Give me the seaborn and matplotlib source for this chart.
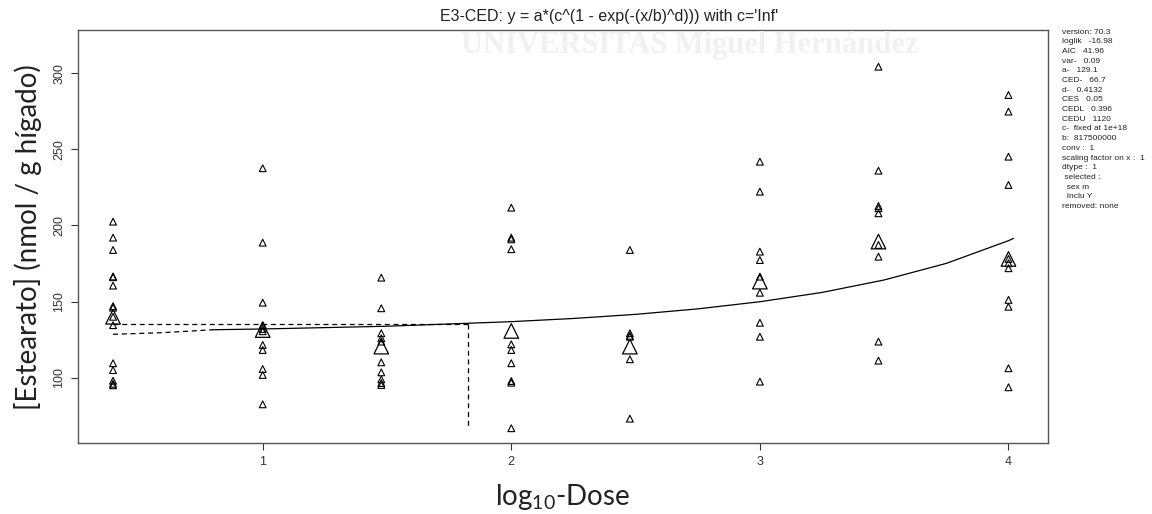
import numpy as np
import pandas as pd
import matplotlib
matplotlib.use("Agg")
import matplotlib.pyplot as plt
import seaborn as sns

# ---- data ----
dose_positions = [0.398, 1.0, 1.477, 2.0, 2.477, 3.0, 3.477, 4.0]
group_values = [
    [202.5, 192.0, 183.9, 166.5, 166.0, 160.5, 147.0, 146.0, 140.0, 134.5, 109.5, 105.0, 98.0, 96.0, 95.0],
    [237.6, 188.7, 149.3, 134.6, 132.0, 130.5, 121.5, 118.2, 105.7, 101.8, 82.5],
    [165.7, 145.6, 129.2, 125.9, 123.7, 110.1, 103.5, 98.9, 96.5, 95.2],
    [211.7, 192.0, 190.9, 184.4, 121.9, 118.2, 109.5, 97.8, 96.7, 66.8],
    [183.9, 129.2, 127.5, 126.9, 112.1, 73.1],
    [241.9, 222.2, 182.8, 177.3, 166.4, 155.8, 136.1, 126.9, 97.4],
    [304.3, 236.0, 212.8, 211.3, 208.0, 187.2, 179.5, 123.7, 111.2],
    [285.7, 274.8, 245.2, 226.6, 178.0, 175.2, 171.9, 151.1, 146.6, 106.2, 93.7],
]
group_means = [140.0, 131.3, 120.4, 130.7, 120.4, 163.1, 189.4, 178.0]

curve_x = [0.80, 1.0, 1.5, 2.0, 2.25, 2.5, 2.75, 3.0, 3.25, 3.5, 3.75, 4.0, 4.02]
curve_y = [131.5, 132.0, 133.8, 136.8, 138.9, 141.6, 145.2, 149.9, 156.0, 164.2, 175.1, 190.0, 191.5]
dash_x = [0.398, 0.60, 0.80]
dash_y = [128.5, 129.6, 131.5]

ced_pos = 1.824
ces_level = 135.1
ced_bottom = 66.8

title_text = "E3-CED: y = a*(c^(1 - exp(-(x/b)^d))) with c='Inf'"
info_lines = [
    "version: 70.3", "loglik   -16.98", "AIC   41.96", "var-   0.09", "a-   129.1",
    "CED-   66.7", "d-   0.4132", "CES   0.05", "CEDL   0.396", "CEDU   1120",
    "c-  fixed at 1e+18", "b:  817500000", "conv :  1", "scaling factor on x :  1",
    "dtype :  1", " selected :", "  sex m", "  Inclu Y", "removed: none",
]
x_ticks = [1, 2, 3, 4]
y_ticks = [100, 150, 200, 250, 300]

# ---- build frames ----
pts = pd.DataFrame(
    [(d, v) for d, vals in zip(dose_positions, group_values) for v in vals],
    columns=["dose", "value"],
)
means = pd.DataFrame({"dose": dose_positions, "value": group_means})
curve = pd.DataFrame({"dose": curve_x, "value": curve_y})
dashc = pd.DataFrame({"dose": dash_x, "value": dash_y})

sns.set_theme(style="white")
plt.rcParams["font.family"] = ["Liberation Sans", "DejaVu Sans"]
plt.rcParams["mathtext.fontset"] = "custom"
plt.rcParams["mathtext.rm"] = "Lato"

fig = plt.figure(figsize=(11.52, 5.14), dpi=100)

# faint background watermark
fig.text(690 / 1152, 1 - 45 / 514, "UNIVERSITAS Miguel Hernández", ha="center",
         va="center", fontsize=22, family="Liberation Serif", weight="bold",
         color="#f1f1f1", zorder=0)

ax = fig.add_axes([78 / 1152, 1 - 443.3 / 514, (1048 - 78) / 1152, (443.3 - 30) / 514])
ax.set_facecolor("none")

sns.scatterplot(data=pts, x="dose", y="value", marker="^", s=24,
                facecolor="none", edgecolor="black", linewidth=0.8, ax=ax, zorder=3)
sns.scatterplot(data=means, x="dose", y="value", marker="^", s=110,
                facecolor="none", edgecolor="black", linewidth=0.9, ax=ax, zorder=3)
sns.lineplot(data=curve, x="dose", y="value", color="black", linewidth=0.9, ax=ax,
             sort=False, estimator=None)
sns.lineplot(data=dashc, x="dose", y="value", color="black", linewidth=0.9, ax=ax,
             sort=False, estimator=None, linestyle=(0, (4, 3)))
ax.plot([dose_positions[0], ced_pos], [ces_level, ces_level], color="black",
        linewidth=0.9, linestyle=(0, (4, 3)))
ax.plot([ced_pos, ced_pos], [ces_level, ced_bottom], color="black",
        linewidth=0.9, linestyle=(0, (4, 3)))

ax.set_xlim(0.257, 4.159)
ax.set_ylim(56.9, 328.4)
ax.set_xticks(x_ticks)
ax.set_xticklabels([str(t) for t in x_ticks])
ax.set_yticks(y_ticks)
ax.set_yticklabels([str(t) for t in y_ticks], rotation=90, va="center")
ax.tick_params(axis="both", which="both", direction="out", length=5, width=0.8,
               colors="#333333", labelsize=9, pad=4,
               bottom=True, left=True)
for sp in ax.spines.values():
    sp.set_color("#555555")
    sp.set_linewidth(1.0)

ax.set_xlabel(r"log$_{\mathregular{10}}$-Dose", fontsize=20, family="Lato",
              labelpad=10, color="#222222")
ax.set_ylabel("[Estearato] (nmol / g hígado)", fontsize=20, family="Lato",
              labelpad=8, color="#222222")

fig.text(609 / 1152, 1 - 17 / 514, title_text, ha="center", va="center",
         fontsize=11.5, color="#222222")
for i, line in enumerate(info_lines):
    fig.text(1062 / 1152, 1 - (32 + i * 9.7) / 514, line, ha="left", va="center",
             fontsize=6, color="#222222")

fig.savefig("out.png", dpi=100)
